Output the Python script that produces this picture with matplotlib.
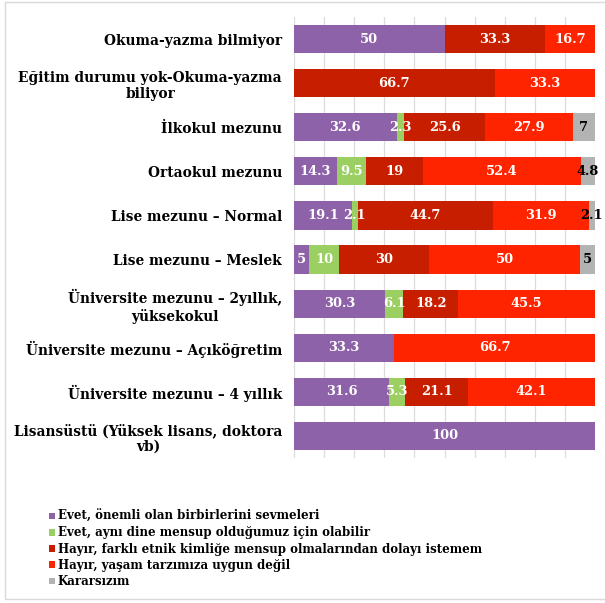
import matplotlib
matplotlib.use("Agg")
import matplotlib.pyplot as plt
from matplotlib.patches import Rectangle
import numpy as np

categories = [
    "Okuma-yazma bilmiyor",
    "Eğitim durumu yok-Okuma-yazma\nbiliyor",
    "İlkokul mezunu",
    "Ortaokul mezunu",
    "Lise mezunu – Normal",
    "Lise mezunu – Meslek",
    "Üniversite mezunu – 2yıllık,\nyüksekokul",
    "Üniversite mezunu – Açıköğretim",
    "Üniversite mezunu – 4 yıllık",
    "Lisansüstü (Yüksek lisans, doktora\nvb)",
]

series_names = [
    "Evet, önemli olan birbirlerini sevmeleri",
    "Evet, aynı dine mensup olduğumuz için olabilir",
    "Hayır, farklı etnik kimliğe mensup olmalarından dolayı istemem",
    "Hayır, yaşam tarzımıza uygun değil",
    "Kararsızım",
]

evet_sevme = [50, 0, 32.6, 14.3, 19.1, 5, 30.3, 33.3, 31.6, 100]
evet_din = [0, 0, 2.3, 9.5, 2.1, 10, 6.1, 0, 5.3, 0]
hayir_etnik = [33.3, 66.7, 25.6, 19, 44.7, 30, 18.2, 0, 21.1, 0]
hayir_yasam = [16.7, 33.3, 27.9, 52.4, 31.9, 50, 45.5, 66.7, 42.1, 0]
kararsiz = [0, 0, 7, 4.8, 2.1, 5, 0, 0, 0, 0]

colors = ["#8E62A8", "#9BCF62", "#C81E00", "#FF2400", "#B3B3B3"]
text_colors = ["white", "white", "white", "white", "black"]

FONT = "DejaVu Serif"

data = np.array([evet_sevme, evet_din, hayir_etnik, hayir_yasam, kararsiz], dtype=float)
totals = data.sum(axis=0)
pct = data / totals * 100

fig = plt.figure(figsize=(6.05, 6.03), dpi=100)
ax = fig.add_axes([294 / 605, 1 - 458 / 603, (595 - 294) / 605, (458 - 17) / 603])

y = np.arange(len(categories))
left = np.zeros(len(categories))
handles = []
for i, name in enumerate(series_names):
    bars = ax.barh(y, pct[i], left=left, height=0.64, color=colors[i], label=name, zorder=2)
    labels = [f"{v:g}" if v > 0 else "" for v in data[i]]
    txts = ax.bar_label(bars, labels=labels, label_type="center", color=text_colors[i],
                        fontsize=9.4, fontweight="bold", family=FONT)
    for t in txts:
        t.set_zorder(6)
    handles.append(bars)
    left += pct[i]

ax.set_xlim(0, 100)
ax.set_ylim(len(categories) - 0.5, -0.5)
ax.set_xticks(np.arange(0, 101, 10))
ax.xaxis.grid(True, color="#DCDCDC", lw=0.9, zorder=0)
ax.tick_params(axis="x", length=0, labelbottom=False)
ax.tick_params(axis="y", length=0, pad=8.6)
ax.set_yticks(y)
ax.set_yticklabels(categories, fontsize=9.9, fontweight="bold", family=FONT,
                   multialignment="center")
for s in ax.spines.values():
    s.set_visible(False)

leg = fig.legend(handles=handles, labels=series_names, loc="upper left",
                 bbox_to_anchor=(49 / 605, 1 - 510 / 603), frameon=False,
                 prop={"family": FONT, "weight": "bold", "size": 8.5},
                 handlelength=0.5, handleheight=0.5, handletextpad=0.25,
                 labelspacing=0.28, borderpad=0, borderaxespad=0)

fig.patches.append(Rectangle((5 / 605, 4 / 603), 620 / 605, 597 / 603,
                             transform=fig.transFigure, fill=False,
                             edgecolor="#D9D9D9", lw=1))

fig.savefig("out.png", dpi=100)
